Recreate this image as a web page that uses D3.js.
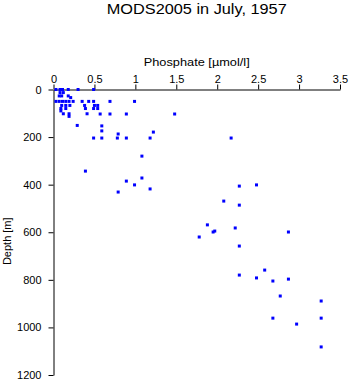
<!DOCTYPE html>
<html>
<head>
<meta charset="utf-8">
<script src="https://cdn.jsdelivr.net/npm/d3@7/dist/d3.min.js"></script>
<style>
  html, body { margin: 0; padding: 0; background: #fff; }
  svg { display: block; }
  text { font-family: "Liberation Sans", Arial, Helvetica, sans-serif; fill: #000; }
</style>
</head>
<body>
<svg id="chart" width="350" height="384"></svg>
<script>
// Phosphate profile samples (µmol/l) and their depths (m)
const phosphate = [
  0.03, 0.08, 0.11, 0.18, 0.30, 0.49,
  0.08, 0.12,
  0.07, 0.10, 0.18, 0.21,
  0.03, 0.07, 0.11, 0.15, 0.19, 0.24, 0.35, 0.43, 0.49, 0.69, 0.99,
  0.10, 0.15, 0.20, 0.38, 0.50, 0.54,
  0.09, 0.15, 0.39, 0.49, 0.54,
  0.09,
  0.12, 0.19, 0.41, 0.57, 0.69, 0.89, 1.48,
  0.19,
  0.29, 0.59, 0.59, 0.79, 0.49, 0.59, 0.78, 0.89, 1.18, 1.22, 2.17,
  1.08, 0.39, 1.08, 0.89, 0.99, 1.18, 0.79,
  2.27, 2.48, 2.08, 2.27, 1.88, 2.22, 1.95, 1.97, 2.87, 1.78, 2.27,
  2.58, 2.27, 2.48, 2.87, 2.68, 2.77,
  3.27, 3.27, 2.68, 2.97, 3.27
];
const depth = [
  0, 0, 0, 0, 0, 0,
  13, 13,
  27, 27, 27, 34,
  50, 50, 50, 50, 50, 50, 50, 50, 50, 50, 50,
  67, 67, 67, 67, 67, 67,
  80, 80, 80, 80, 80,
  90,
  102, 102, 102, 103, 103, 103, 103,
  113,
  151, 153, 174, 187, 204, 204, 204, 204, 204, 179, 204,
  280, 343, 372, 385, 401, 418, 431,
  406, 401, 469, 486, 569, 582, 599, 595, 599, 620, 658,
  759, 780, 792, 797, 805, 868,
  889, 961, 961, 986, 1082
];
const xTicks = [0, 0.5, 1, 1.5, 2, 2.5, 3, 3.5];
const yTicks = [0, 200, 400, 600, 800, 1000, 1200];

const svg = d3.select("#chart");
const plotLeft = 53.5, plotRight = 340, plotTop = 89.5, plotBottom = 375;

const x = d3.scaleLinear().domain([0, 3.5]).range([plotLeft, plotRight]);
const y = d3.scaleLinear().domain([0, 1200]).range([plotTop, plotBottom]);

// Title
svg.append("text")
  .attr("x", (plotLeft + plotRight) / 2)
  .attr("y", 14)
  .attr("text-anchor", "middle")
  .attr("textLength", 180)
  .attr("lengthAdjust", "spacingAndGlyphs")
  .style("font-size", "14px")
  .text("MODS2005 in July, 1957");

// Top (phosphate) axis
const gx = svg.append("g")
  .attr("transform", `translate(0,${plotTop})`)
  .call(d3.axisTop(x).tickValues(xTicks).tickFormat(d3.format("")).tickSize(5).tickSizeOuter(0).tickPadding(2));
gx.selectAll("text").style("font-size", "11px");

svg.append("text")
  .attr("x", (plotLeft + plotRight) / 2)
  .attr("y", 66)
  .attr("text-anchor", "middle")
  .attr("textLength", 106)
  .attr("lengthAdjust", "spacingAndGlyphs")
  .style("font-size", "11px")
  .text("Phosphate [µmol/l]");

// Left (depth) axis
const gy = svg.append("g")
  .attr("transform", `translate(${plotLeft},0)`)
  .call(d3.axisLeft(y).tickValues(yTicks).tickFormat(d3.format("")).tickSize(5).tickSizeOuter(0).tickPadding(7));
gy.selectAll("text").style("font-size", "11px");

svg.append("text")
  .attr("transform", `translate(11,${(plotTop + plotBottom) / 2 + 9}) rotate(-90)`)
  .attr("text-anchor", "middle")
  .style("font-size", "11px")
  .text("Depth [m]");

svg.selectAll(".domain, .tick line").attr("stroke", "#000").attr("stroke-width", 1);

// Sample markers
svg.append("g")
  .selectAll("rect")
  .data(phosphate.map((p, i) => [p, depth[i]]))
  .join("rect")
  .attr("x", d => x(d[0]) - 1.5)
  .attr("y", d => y(d[1]) - 1.5)
  .attr("width", 3)
  .attr("height", 3)
  .attr("fill", "#0000ff");
</script>
</body>
</html>
